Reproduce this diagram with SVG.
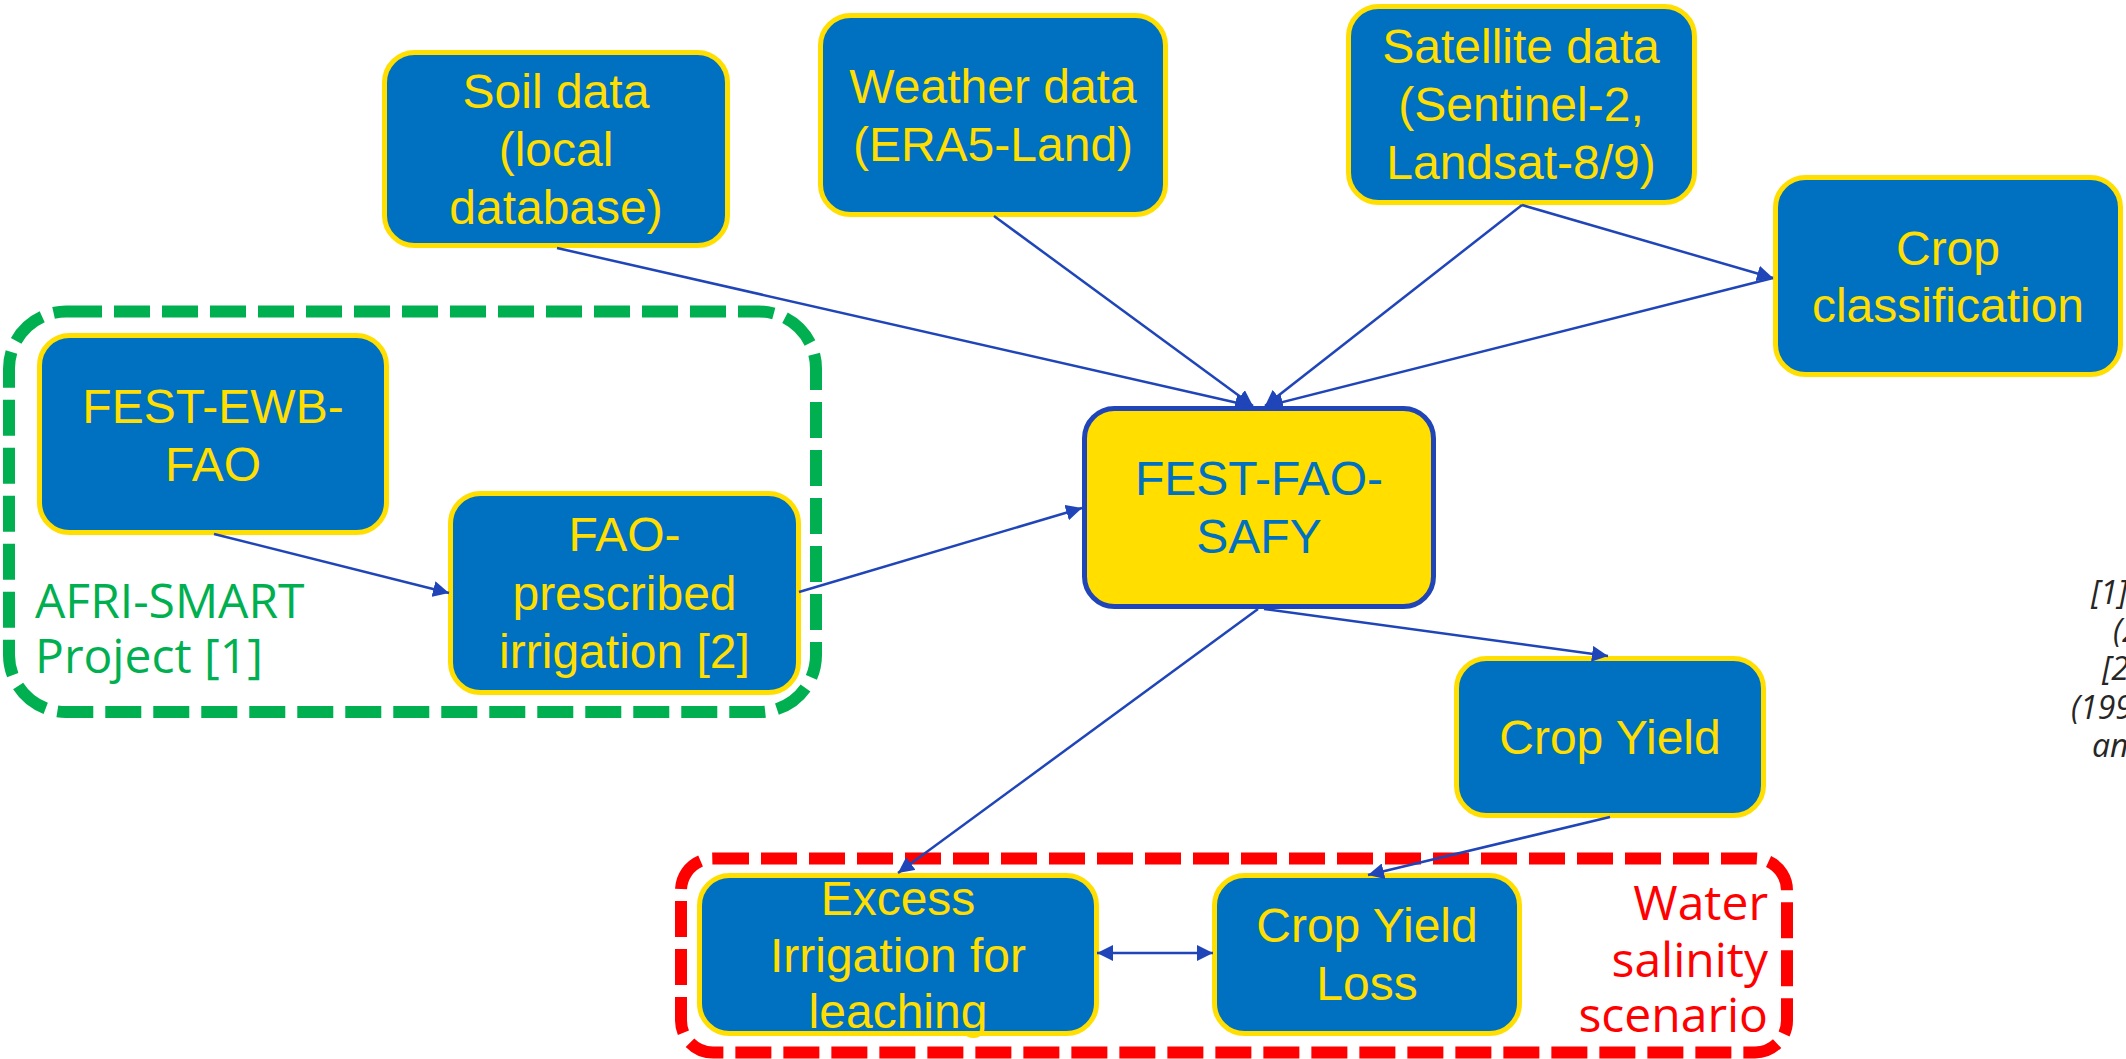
<svg xmlns="http://www.w3.org/2000/svg" width="2126" height="1059" viewBox="0 0 2126 1059">
<defs>
<style>
.node{fill:#0070C0;stroke:#FFDE00;stroke-width:5}
.core{fill:#FFDE00;stroke:#1F45B9;stroke-width:5}
.t{font-family:"Liberation Sans",Arial,sans-serif;font-size:48px;fill:#FFDE00;text-anchor:middle}
.tc{font-family:"Liberation Sans",Arial,sans-serif;font-size:48px;fill:#0070C0;text-anchor:middle}
.grp{fill:none;stroke-width:12;stroke-dasharray:36 12}
.lbl{font-family:"Open Sans","Liberation Sans",sans-serif;font-size:48px}
.ref{font-family:"Open Sans","Liberation Sans",sans-serif;font-size:32px;font-style:italic;fill:#262626}
.c{fill:none;stroke:#1F45B9;stroke-width:2.5}
</style>
<marker id="ah" markerUnits="userSpaceOnUse" markerWidth="16" markerHeight="16" viewBox="0 0 15 15" refX="15" refY="7.5" orient="auto">
<path d="M0,0 L15,7.5 L0,15 z" fill="#1F45B9"/>
</marker>
<marker id="ahs" markerUnits="userSpaceOnUse" markerWidth="16" markerHeight="16" viewBox="0 0 15 15" refX="0" refY="7.5" orient="auto">
<path d="M15,0 L0,7.5 L15,15 z" fill="#1F45B9"/>
</marker>
</defs>
<rect width="2126" height="1059" fill="#FFFFFF"/>

<g id="group-afri-smart">
<rect class="grp" x="9" y="311.5" width="807" height="400.5" rx="57" stroke="#00B050"/>
<text class="lbl" fill="#00B050" x="35" y="618">AFRI-SMART</text>
<text class="lbl" fill="#00B050" x="35" y="673">Project [1]</text>
</g>

<g id="group-water-salinity">
<rect class="grp" x="681" y="858.5" width="1106" height="194" rx="32" stroke="#FF0000"/>
<text class="lbl" fill="#FF0000" text-anchor="end" x="1768" y="920">Water</text>
<text class="lbl" fill="#FF0000" text-anchor="end" x="1768" y="977">salinity</text>
<text class="lbl" fill="#FF0000" text-anchor="end" x="1768" y="1032">scenario</text>
</g>

<g id="node-soil">
<rect class="node" x="384.5" y="52.5" width="343" height="193" rx="30"/>
<text class="t" x="556" y="108">Soil data</text>
<text class="t" x="556" y="166">(local</text>
<text class="t" x="556" y="224">database)</text>
</g>

<g id="node-weather">
<rect class="node" x="820.5" y="15.5" width="345" height="199" rx="30"/>
<text class="t" x="993" y="103">Weather data</text>
<text class="t" x="993" y="161">(ERA5-Land)</text>
</g>

<g id="node-satellite">
<rect class="node" x="1348.5" y="6.5" width="346" height="196" rx="30"/>
<text class="t" x="1521" y="63">Satellite data</text>
<text class="t" x="1521" y="121">(Sentinel-2,</text>
<text class="t" x="1521" y="179">Landsat-8/9)</text>
</g>

<g id="node-crop-classification">
<rect class="node" x="1775.5" y="177.5" width="345" height="197" rx="30"/>
<text class="t" x="1948" y="265">Crop</text>
<text class="t" x="1948" y="322">classification</text>
</g>

<g id="node-fest-ewb-fao">
<rect class="node" x="39.5" y="335.5" width="347" height="197" rx="30"/>
<text class="t" x="213" y="423">FEST-EWB-</text>
<text class="t" x="213" y="481">FAO</text>
</g>

<g id="node-fao-prescribed">
<rect class="node" x="450.5" y="493.5" width="348" height="199" rx="30"/>
<text class="t" x="624.5" y="551">FAO-</text>
<text class="t" x="624.5" y="610">prescribed</text>
<text class="t" x="624.5" y="668">irrigation [2]</text>
</g>

<g id="node-fest-fao-safy">
<rect class="core" x="1084.5" y="408.5" width="349" height="198" rx="30"/>
<text class="tc" x="1259" y="495">FEST-FAO-</text>
<text class="tc" x="1259" y="553">SAFY</text>
</g>

<g id="node-crop-yield">
<rect class="node" x="1456.5" y="658.5" width="307" height="157" rx="30"/>
<text class="t" x="1610" y="754">Crop Yield</text>
</g>

<g id="node-excess-irrigation">
<rect class="node" x="699.5" y="875.5" width="397" height="158" rx="30"/>
<text class="t" x="898" y="915">Excess</text>
<text class="t" x="898" y="972">Irrigation for</text>
<text class="t" x="898" y="1028">leaching</text>
</g>

<g id="node-crop-yield-loss">
<rect class="node" x="1214.5" y="875.5" width="305" height="158" rx="30"/>
<text class="t" x="1367" y="942">Crop Yield</text>
<text class="t" x="1367" y="1000">Loss</text>
</g>

<g id="connectors">
<line class="c" x1="557" y1="248" x2="1251" y2="406" marker-end="url(#ah)"/>
<line class="c" x1="994" y1="216" x2="1253" y2="406" marker-end="url(#ah)"/>
<line class="c" x1="1522" y1="205" x2="1265" y2="406" marker-end="url(#ah)"/>
<line class="c" x1="1522" y1="205" x2="1773" y2="278" marker-end="url(#ah)"/>
<line class="c" x1="1773" y1="278" x2="1267" y2="406" marker-end="url(#ah)"/>
<line class="c" x1="214" y1="534" x2="449" y2="593" marker-end="url(#ah)"/>
<line class="c" x1="799" y1="592" x2="1082" y2="508" marker-end="url(#ah)"/>
<line class="c" x1="1264" y1="609" x2="1608" y2="656" marker-end="url(#ah)"/>
<line class="c" x1="1258" y1="609" x2="898" y2="873" marker-end="url(#ah)"/>
<line class="c" x1="1610" y1="817" x2="1368" y2="875" marker-end="url(#ah)"/>
<line class="c" x1="1097" y1="953" x2="1213" y2="953" marker-start="url(#ahs)" marker-end="url(#ah)"/>
</g>

<g id="side-references">
<text class="ref" x="2091" y="604">[1]</text>
<text class="ref" x="2113" y="642">(2</text>
<text class="ref" x="2102" y="680">[2</text>
<text class="ref" x="2071" y="719">(199</text>
<text class="ref" x="2092" y="757">an</text>
</g>
</svg>
